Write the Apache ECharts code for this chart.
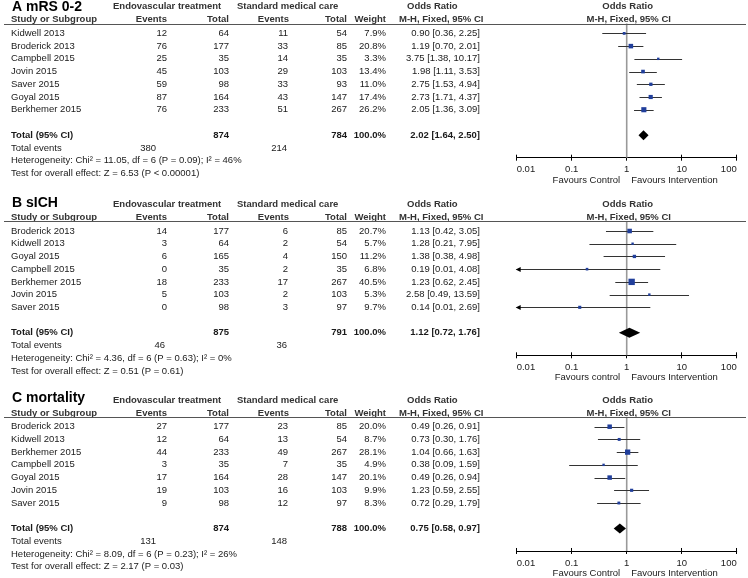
<!DOCTYPE html>
<html><head><meta charset="utf-8">
<script src="https://cdn.jsdelivr.net/npm/echarts@6/dist/echarts.min.js"></script>
<style>html,body{margin:0;padding:0;background:#fff}#c{width:748px;height:578px}</style>
</head><body><div id="c"></div>
<script>
// ================= DATA =================
const tickLabels = ['0.01', '0.1', '1', '10', '100'];

// Panel A: mRS 0-2
const titleA = 'A mRS 0-2';
const studiesA = ['Kidwell 2013', 'Broderick 2013', 'Campbell 2015', 'Jovin 2015', 'Saver 2015', 'Goyal 2015', 'Berkhemer 2015'];
const expEventsA = [12, 76, 25, 45, 59, 87, 76];
const expTotalA = [64, 177, 35, 103, 98, 164, 233];
const ctrlEventsA = [11, 33, 14, 29, 33, 43, 51];
const ctrlTotalA = [54, 85, 35, 103, 93, 147, 267];
const weightA = [7.9, 20.8, 3.3, 13.4, 11.0, 17.4, 26.2];
const orA = [0.90, 1.19, 3.75, 1.98, 2.75, 2.73, 2.05];
const loA = [0.36, 0.70, 1.38, 1.11, 1.53, 1.71, 1.36];
const hiA = [2.25, 2.01, 10.17, 3.53, 4.94, 4.37, 3.09];
const totalsA = [874, 784];
const totalEventsA = [380, 214];
const pooledA = [2.02, 1.64, 2.50];
const hetA = 'Heterogeneity: Chi\u00b2 = 11.05, df = 6 (P = 0.09); I\u00b2 = 46%';
const testA = 'Test for overall effect: Z = 6.53 (P < 0.00001)';
const favoursA = ['Favours Control', 'Favours Intervention'];

// Panel B: sICH
const titleB = 'B sICH';
const studiesB = ['Broderick 2013', 'Kidwell 2013', 'Goyal 2015', 'Campbell 2015', 'Berkhemer 2015', 'Jovin 2015', 'Saver 2015'];
const expEventsB = [14, 3, 6, 0, 18, 5, 0];
const expTotalB = [177, 64, 165, 35, 233, 103, 98];
const ctrlEventsB = [6, 2, 4, 2, 17, 2, 3];
const ctrlTotalB = [85, 54, 150, 35, 267, 103, 97];
const weightB = [20.7, 5.7, 11.2, 6.8, 40.5, 5.3, 9.7];
const orB = [1.13, 1.28, 1.38, 0.19, 1.23, 2.58, 0.14];
const loB = [0.42, 0.21, 0.38, 0.01, 0.62, 0.49, 0.01];
const hiB = [3.05, 7.95, 4.98, 4.08, 2.45, 13.59, 2.69];
const totalsB = [875, 791];
const totalEventsB = [46, 36];
const pooledB = [1.12, 0.72, 1.76];
const hetB = 'Heterogeneity: Chi\u00b2 = 4.36, df = 6 (P = 0.63); I\u00b2 = 0%';
const testB = 'Test for overall effect: Z = 0.51 (P = 0.61)';
const favoursB = ['Favours control', 'Favours Intervention'];

// Panel C: mortality
const titleC = 'C mortality';
const studiesC = ['Broderick 2013', 'Kidwell 2013', 'Berkhemer 2015', 'Campbell 2015', 'Goyal 2015', 'Jovin 2015', 'Saver 2015'];
const expEventsC = [27, 12, 44, 3, 17, 19, 9];
const expTotalC = [177, 64, 233, 35, 164, 103, 98];
const ctrlEventsC = [23, 13, 49, 7, 28, 16, 12];
const ctrlTotalC = [85, 54, 267, 35, 147, 103, 97];
const weightC = [20.0, 8.7, 28.1, 4.9, 20.1, 9.9, 8.3];
const orC = [0.49, 0.73, 1.04, 0.38, 0.49, 1.23, 0.72];
const loC = [0.26, 0.30, 0.66, 0.09, 0.26, 0.59, 0.29];
const hiC = [0.91, 1.76, 1.63, 1.59, 0.94, 2.55, 1.79];
const totalsC = [874, 788];
const totalEventsC = [131, 148];
const pooledC = [0.75, 0.58, 0.97];
const hetC = 'Heterogeneity: Chi\u00b2 = 8.09, df = 6 (P = 0.23); I\u00b2 = 26%';
const testC = 'Test for overall effect: Z = 2.17 (P = 0.03)';
const favoursC = ['Favours Control', 'Favours Intervention'];

// ================= LAYOUT =================
const FONT = '"Liberation Sans", Arial, Helvetica, sans-serif';
const FS = 9.5;
const panelRow0 = [33.4, 231, 426.7];   // pixel y of first study row in each panel
const ROWH = 12.72;
const Y_MIN = -0.778, Y_MAX = 9.772;   // row units spanned by each plot grid
const GRID_LEFT = 516.7, GRID_W = 220;
const X_MIN = 0.01, X_MAX = 100;
const TEXT_COLOR = '#1a1a1a', HEAD_COLOR = '#333';
const SQ_COLOR = '#213f9b';
const CI_COLOR = '#333';

const panels = [
  {title: titleA, studies: studiesA, ee: expEventsA, et: expTotalA, ce: ctrlEventsA, ct: ctrlTotalA, w: weightA, or: orA, lo: loA, hi: hiA, totals: totalsA, tev: totalEventsA, pooled: pooledA, het: hetA, test: testA, fav: favoursA, evX: 156, titleRow: -2.1},
  {title: titleB, studies: studiesB, ee: expEventsB, et: expTotalB, ce: ctrlEventsB, ct: ctrlTotalB, w: weightB, or: orB, lo: loB, hi: hiB, totals: totalsB, tev: totalEventsB, pooled: pooledB, het: hetB, test: testB, fav: favoursB, evX: 165, titleRow: -2.18},
  {title: titleC, studies: studiesC, ee: expEventsC, et: expTotalC, ce: ctrlEventsC, ct: ctrlTotalC, w: weightC, or: orC, lo: loC, hi: hiC, totals: totalsC, tev: totalEventsC, pooled: pooledC, het: hetC, test: testC, fav: favoursC, evX: 156, titleRow: -2.22}
];

const fmtCI = (o, l, h) => o.toFixed(2) + ' [' + l.toFixed(2) + ', ' + h.toFixed(2) + ']';

function buildCells(P) {
  const cells = [];
  const add = (row, x, text, align, opt) => cells.push(Object.assign({row: row, x: x, text: String(text), align: align}, opt || {}));
  add(P.titleRow, 12, P.title, 'left', {size: 14, bold: true, color: '#000'});
  add(-2.09, 113, 'Endovascular treatment', 'left', {bold: true, color: HEAD_COLOR});
  add(-2.09, 237, 'Standard medical care', 'left', {bold: true, color: HEAD_COLOR});
  add(-2.09, 407, 'Odds Ratio', 'left', {bold: true, color: HEAD_COLOR});
  add(-2.09, 1, 'Odds Ratio', 'center', {bold: true, color: HEAD_COLOR, atOne: true});
  add(-1.07, 11, 'Study or Subgroup', 'left', {bold: true, color: HEAD_COLOR});
  add(-1.07, 167, 'Events', 'right', {bold: true, color: HEAD_COLOR});
  add(-1.07, 229, 'Total', 'right', {bold: true, color: HEAD_COLOR});
  add(-1.07, 289, 'Events', 'right', {bold: true, color: HEAD_COLOR});
  add(-1.07, 347, 'Total', 'right', {bold: true, color: HEAD_COLOR});
  add(-1.07, 386, 'Weight', 'right', {bold: true, color: HEAD_COLOR});
  add(-1.07, 399, 'M-H, Fixed, 95% CI', 'left', {bold: true, color: HEAD_COLOR});
  add(-1.07, 2, 'M-H, Fixed, 95% CI', 'center', {bold: true, color: HEAD_COLOR, atOne: true});
  cells.push({row: Y_MIN, line: true});
  cells.push({row: Y_MIN, refLine: true});
  P.studies.forEach((s, i) => {
    add(i, 11, s, 'left');
    add(i, 167, P.ee[i], 'right');
    add(i, 229, P.et[i], 'right');
    add(i, 288, P.ce[i], 'right');
    add(i, 347, P.ct[i], 'right');
    add(i, 386, P.w[i].toFixed(1) + '%', 'right');
    add(i, 480, fmtCI(P.or[i], P.lo[i], P.hi[i]), 'right');
  });
  add(8, 11, 'Total (95% CI)', 'left', {bold: true});
  add(8, 229, P.totals[0], 'right', {bold: true});
  add(8, 347, P.totals[1], 'right', {bold: true});
  add(8, 386, '100.0%', 'right', {bold: true});
  add(8, 480, fmtCI(P.pooled[0], P.pooled[1], P.pooled[2]), 'right', {bold: true});
  add(9, 11, 'Total events', 'left');
  add(9, P.evX, P.tev[0], 'right');
  add(9, 287, P.tev[1], 'right');
  add(10, 11, P.het, 'left');
  add(11, 11, P.test, 'left');
  add(11.54, -6.5, P.fav[0], 'right', {atOne: true});
  add(11.54, 4.5, P.fav[1], 'left', {atOne: true});
  return cells;
}

const grids = [], xAxes = [], yAxes = [], series = [];

panels.forEach((P, pi) => {
  const top = panelRow0[pi] + Y_MIN * ROWH;
  grids.push({left: GRID_LEFT, width: GRID_W, top: top, height: (Y_MAX - Y_MIN) * ROWH, containLabel: false, outerBoundsMode: 'none', show: false});
  const labelFmt = v => tickLabels[Math.round(Math.log10(v)) + 2];
  xAxes.push({
    gridIndex: pi, type: 'log', logBase: 10, min: X_MIN, max: X_MAX, position: 'bottom',
    axisLine: {show: true, onZero: false, lineStyle: {color: '#000', width: 1}},
    axisTick: {show: true, length: 3, lineStyle: {color: '#000', width: 1}},
    axisLabel: {show: true, margin: 7, fontSize: FS, fontFamily: FONT, color: TEXT_COLOR, formatter: labelFmt, alignMinLabel: 'left', alignMaxLabel: 'right'},
    splitLine: {show: false}, minorTick: {show: false}, minorSplitLine: {show: false}
  });
  xAxes.push({
    gridIndex: pi, type: 'log', logBase: 10, min: X_MIN, max: X_MAX, position: 'bottom',
    axisLine: {show: false, onZero: false},
    axisTick: {show: true, inside: true, length: 3, lineStyle: {color: '#000', width: 1}},
    axisLabel: {show: false}, splitLine: {show: false}, minorSplitLine: {show: false}
  });
  yAxes.push({gridIndex: pi, type: 'value', min: Y_MIN, max: Y_MAX, inverse: true, show: false,
    axisLine: {show: false, onZero: false}, axisTick: {show: false}, axisLabel: {show: false}, splitLine: {show: false}});

  const xi = pi * 2, yi = pi;
  const cells = buildCells(P);

  // table text, header rule and reference line at OR = 1
  series.push({
    type: 'custom', xAxisIndex: xi, yAxisIndex: yi, clip: false, silent: true, z: 5,
    data: cells.map(c => [1, c.row]),
    renderItem: (params, api) => {
      const c = cells[params.dataIndex];
      const pt = api.coord([1, api.value(1)]);
      if (c.line) {
        const y = Math.round(pt[1]) + 0.5;
        return {type: 'line', shape: {x1: 4, y1: y, x2: 746, y2: y}, style: {stroke: '#555', lineWidth: 1}};
      }
      if (c.refLine) {
        const b = api.coord([1, Y_MAX]);
        return {type: 'line', z2: -10, shape: {x1: pt[0], y1: pt[1], x2: b[0], y2: b[1]}, style: {stroke: '#999', lineWidth: 1.6}};
      }
      const x = c.atOne ? pt[0] + c.x : c.x;
      const font = (c.bold ? 'bold ' : '') + (c.size || FS) + 'px ' + FONT;
      return {
        type: 'text', x: x, y: pt[1],
        style: {text: c.text, font: font, fill: c.color || TEXT_COLOR, align: c.align, verticalAlign: 'middle'}
      };
    }
  });

  // confidence intervals
  series.push({
    type: 'custom', xAxisIndex: xi, yAxisIndex: yi, clip: false, silent: true, z: 6,
    data: P.studies.map((s, i) => [P.lo[i], i, P.hi[i]]),
    renderItem: (params, api) => {
      const lo = api.value(0), r = api.value(1), hi = api.value(2);
      const p1 = api.coord([lo, r]), p2 = api.coord([hi, r]);
      const y = Math.round(p1[1]) + 0.5;
      const ch = [{type: 'line', shape: {x1: p1[0], y1: y, x2: p2[0], y2: y}, style: {stroke: CI_COLOR, lineWidth: 1}}];
      if (lo <= X_MIN) {
        ch.push({type: 'polygon', shape: {points: [[p1[0] - 1, y], [p1[0] + 4, y - 2.6], [p1[0] + 4, y + 2.6]]}, style: {fill: '#000'}});
      }
      return {type: 'group', children: ch};
    }
  });

  // study estimates, square size from weight
  const w = P.w;
  series.push({
    type: 'scatter', xAxisIndex: xi, yAxisIndex: yi, z: 7, silent: true,
    symbol: 'rect',
    symbolSize: (v, p) => Math.max(2.4, Math.sqrt(w[p.dataIndex]) * 1.0),
    itemStyle: {color: SQ_COLOR, opacity: 1},
    data: P.or.map((o, i) => [o, i])
  });

  // pooled diamond
  series.push({
    type: 'custom', xAxisIndex: xi, yAxisIndex: yi, clip: false, silent: true, z: 7,
    data: [[P.pooled[0], 8, P.pooled[1], P.pooled[2]]],
    renderItem: (params, api) => {
      const r = api.value(1);
      const m = api.coord([api.value(0), r]), a = api.coord([api.value(2), r]), b = api.coord([api.value(3), r]);
      const h = 5;
      return {type: 'polygon', shape: {points: [[a[0], a[1]], [m[0], m[1] - h], [b[0], b[1]], [m[0], m[1] + h]]}, style: {fill: '#000'}};
    }
  });
});

const chart = echarts.init(document.getElementById('c'), null, {renderer: 'canvas'});
chart.setOption({
  animation: false,
  backgroundColor: '#fff',
  grid: grids, xAxis: xAxes, yAxis: yAxes, series: series
});
</script>
</body></html>
